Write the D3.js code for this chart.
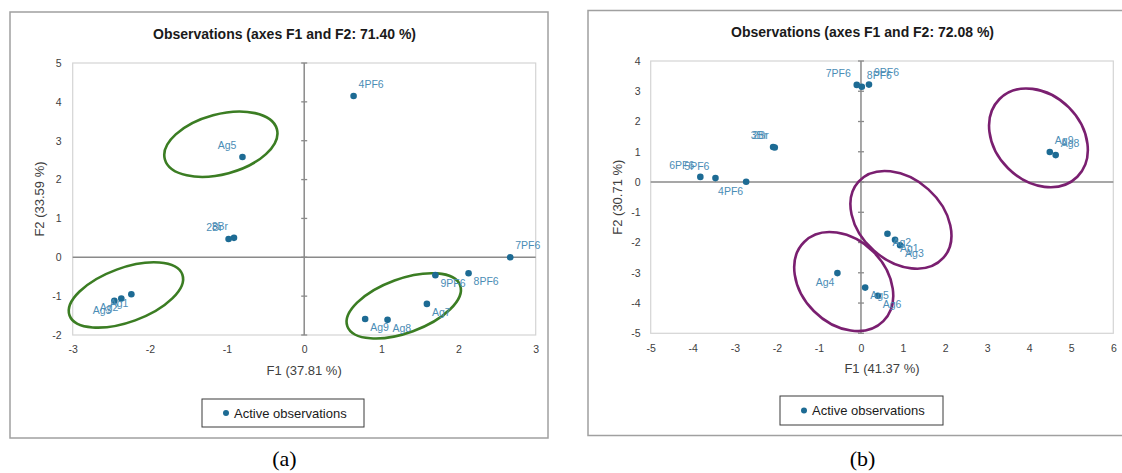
<!DOCTYPE html>
<html>
<head>
<meta charset="utf-8">
<title>Observations (axes F1 and F2)</title>
<script src="https://cdn.jsdelivr.net/npm/d3@7"></script>
<style>
  body { margin: 0; background: #fff; }
  svg  { display: block; font-family: "Liberation Sans", Arial, sans-serif; }
</style>
</head>
<body>
<script>
// ---- data ----
// panel (a)
var namesA = ["4PF6","Ag5","2Br","3Br","Ag3","Ag2","Ag1","7PF6","8PF6","9PF6","Ag7","Ag9","Ag8"];
var f1A    = [0.64, -0.80, -0.98, -0.91, -2.46, -2.37, -2.24, 2.67, 2.13, 1.70, 1.59, 0.79, 1.08];
var f2A    = [4.15,  2.58,  0.47,  0.50, -1.12, -1.06, -0.95, 0.00, -0.41, -0.46, -1.20, -1.59, -1.61];
var xTicksA = [-3, -2, -1, 0, 1, 2, 3];
var yTicksA = [-2, -1, 0, 1, 2, 3, 4, 5];

// panel (b)
var namesB = ["7PF6","8PF6","9PF6","3Br","2Br","6PF6","5PF6","4PF6","Ag9","Ag8","Ag2","Ag1","Ag3","Ag4","Ag5","Ag6"];
var f1B    = [-0.10, 0.02, 0.19, -2.09, -2.05, -3.82, -3.46, -2.73, 4.49, 4.63, 0.63, 0.81, 0.93, -0.56, 0.10, 0.40];
var f2B    = [ 3.21, 3.15, 3.22,  1.16,  1.14,  0.17,  0.13,  0.01, 0.99, 0.89, -1.71, -1.91, -2.09, -3.01, -3.49, -3.76];
var xTicksB = [-5, -4, -3, -2, -1, 0, 1, 2, 3, 4, 5, 6];
var yTicksB = [-5, -4, -3, -2, -1, 0, 1, 2, 3, 4];

// circled groups (centre in F1/F2 units)
var groupsA = [
  {f1: -1.08, f2:  2.91},
  {f1: -2.31, f2: -0.97},
  {f1:  1.29, f2: -1.25}
];
var groupsB = [
  {f1:  4.22, f2:  1.46},
  {f1:  0.95, f2: -1.25},
  {f1: -0.41, f2: -3.29}
];

// where each label sits relative to its point
var sideA = {"4PF6":"ne","Ag5":"nw","2Br":"nw","3Br":"nw","Ag3":"sw","Ag2":"sw","Ag1":"sw",
             "7PF6":"ne","8PF6":"se","9PF6":"se","Ag7":"se","Ag9":"se","Ag8":"se"};
var sideB = {"7PF6":"nw","8PF6":"ne","9PF6":"ne","3Br":"nw","2Br":"nw","6PF6":"nw","5PF6":"nw",
             "4PF6":"sw","Ag9":"ne","Ag8":"ne","Ag2":"se","Ag1":"se","Ag3":"se","Ag4":"sw",
             "Ag5":"se","Ag6":"se"};

var W = 1122, H = 473;
var dotColor = "#1d6b94", labelColor = "#4b8db6";

var svg = d3.select("body").append("svg")
    .attr("width", W)
    .attr("height", H);

var offsets = {
  ne: {dx: 5,  dy: -12, anchor: "start"},
  nw: {dx: -6, dy: -12, anchor: "end"},
  se: {dx: 5,  dy: 8,   anchor: "start"},
  sw: {dx: -3, dy: 9,   anchor: "end"}
};

function drawPanel(p) {
  var g = svg.append("g");

  // outer frame
  g.append("rect")
      .attr("x", p.frame[0]).attr("y", p.frame[1])
      .attr("width", p.frame[2] - p.frame[0]).attr("height", p.frame[3] - p.frame[1])
      .attr("fill", "none").attr("stroke", "#a0a0a0").attr("stroke-width", 1.5);

  var x = d3.scaleLinear().domain(p.xDomain).range([p.plot[0], p.plot[2]]);
  var y = d3.scaleLinear().domain(p.yDomain).range([p.plot[3], p.plot[1]]);

  // plot area border
  g.append("rect")
      .attr("x", p.plot[0]).attr("y", p.plot[1])
      .attr("width", p.plot[2] - p.plot[0]).attr("height", p.plot[3] - p.plot[1])
      .attr("fill", "none").attr("stroke", "#d4d4d4").attr("stroke-width", 1.2);

  // zero lines
  g.append("line")
      .attr("x1", p.plot[0]).attr("x2", p.plot[2])
      .attr("y1", y(0)).attr("y2", y(0))
      .attr("stroke", "#8a8a8a").attr("stroke-width", 1.5);
  g.append("line")
      .attr("x1", x(0)).attr("x2", x(0))
      .attr("y1", p.plot[1]).attr("y2", p.plot[3])
      .attr("stroke", "#8a8a8a").attr("stroke-width", 1.5);
  g.selectAll(".ztick")
      .data(p.yTicks)
    .enter().append("line")
      .attr("x1", x(0) - 3).attr("x2", x(0) + 3)
      .attr("y1", d => y(d)).attr("y2", d => y(d))
      .attr("stroke", "#8a8a8a").attr("stroke-width", 1.3);

  // tick labels
  var yAxis = g.append("g")
      .attr("transform", `translate(${p.plot[0]},0)`)
      .call(d3.axisLeft(y).tickValues(p.yTicks).tickSize(0).tickPadding(p.yPad).tickFormat(d => String(d)));
  var xAxis = g.append("g")
      .attr("transform", `translate(0,${p.plot[3]})`)
      .call(d3.axisBottom(x).tickValues(p.xTicks).tickSize(0).tickPadding(p.xPad).tickFormat(d => String(d)));
  [xAxis, yAxis].forEach(function(a) {
    a.select(".domain").remove();
    a.selectAll("text")
        .attr("fill", "#404040")
        .style("font-size", "10.5px")
        .style("font-family", "Liberation Sans, Arial, sans-serif");
  });

  // titles
  g.append("text")
      .attr("x", p.titleX).attr("y", p.titleY)
      .attr("text-anchor", "middle")
      .attr("font-weight", "bold").attr("font-size", 14).attr("fill", "#1a1a1a")
      .text(p.title);
  g.append("text")
      .attr("x", (p.plot[0] + p.plot[2]) / 2).attr("y", p.plot[3] + 40)
      .attr("text-anchor", "middle")
      .attr("font-size", 13).attr("fill", "#404040")
      .text(p.xTitle);
  g.append("text")
      .attr("transform", `translate(${p.yTitleX},${(p.plot[1] + p.plot[3]) / 2}) rotate(-90)`)
      .attr("text-anchor", "middle")
      .attr("font-size", 13).attr("fill", "#404040")
      .text(p.yTitle);

  // circled groups
  g.selectAll(".grp")
      .data(p.groups)
    .enter().append("ellipse")
      .attr("transform", (d, i) => `translate(${x(d.f1)},${y(d.f2)}) rotate(${p.ell[i][2]})`)
      .attr("rx", (d, i) => p.ell[i][0])
      .attr("ry", (d, i) => p.ell[i][1])
      .attr("fill", "none")
      .attr("stroke", p.ellColor)
      .attr("stroke-width", 2.6);

  // observations
  var pts = p.names.map((n, i) => ({name: n, f1: p.f1[i], f2: p.f2[i]}));
  g.selectAll(".pt")
      .data(pts)
    .enter().append("circle")
      .attr("cx", d => x(d.f1))
      .attr("cy", d => y(d.f2))
      .attr("r", 3.3)
      .attr("fill", dotColor);
  g.selectAll(".lbl")
      .data(pts)
    .enter().append("text")
      .attr("x", d => x(d.f1) + offsets[p.side[d.name]].dx)
      .attr("y", d => y(d.f2) + offsets[p.side[d.name]].dy + 3.8)
      .attr("text-anchor", d => offsets[p.side[d.name]].anchor)
      .attr("font-size", 10.5)
      .attr("fill", labelColor)
      .text(d => d.name);

  // legend
  var lg = p.legend;
  g.append("rect")
      .attr("x", lg[0]).attr("y", lg[1])
      .attr("width", lg[2] - lg[0]).attr("height", lg[3] - lg[1])
      .attr("fill", "#fff").attr("stroke", "#3a3a3a").attr("stroke-width", 1);
  g.append("circle")
      .attr("cx", lg[0] + 24).attr("cy", (lg[1] + lg[3]) / 2)
      .attr("r", 3).attr("fill", dotColor);
  g.append("text")
      .attr("x", lg[0] + 32).attr("y", (lg[1] + lg[3]) / 2 + 4.5)
      .attr("font-size", 13).attr("fill", "#1a1a1a")
      .text("Active observations");

  // panel letter
  svg.append("text")
      .attr("x", p.titleX).attr("y", 466)
      .attr("text-anchor", "middle")
      .attr("font-family", "Liberation Serif, Times New Roman, serif")
      .attr("font-size", 22).attr("fill", "#000")
      .text(p.letter);
}

drawPanel({
  names: namesA, f1: f1A, f2: f2A, side: sideA, groups: groupsA,
  xDomain: [-3, 3], yDomain: [-2, 5], xTicks: xTicksA, yTicks: yTicksA,
  frame: [10, 12, 548, 438], plot: [72.7, 63, 535.7, 335],
  xPad: 11, yPad: 11, yTitleX: 44,
  title: "Observations (axes F1 and F2: 71.40 %)", titleX: 284.5, titleY: 39,
  xTitle: "F1 (37.81 %)", yTitle: "F2 (33.59 %)",
  ellColor: "#3b7d23", ell: [[58, 30, -15], [60, 27, -20], [60, 27, -20]],
  legend: [202, 399, 364, 427], letter: "(a)"
});

drawPanel({
  names: namesB, f1: f1B, f2: f2B, side: sideB, groups: groupsB,
  xDomain: [-5, 6], yDomain: [-5, 4], xTicks: xTicksB, yTicks: yTicksB,
  frame: [588, 10.5, 1140, 435.5], plot: [650.7, 61, 1113.3, 333.3],
  xPad: 11, yPad: 10, yTitleX: 622,
  title: "Observations (axes F1 and F2: 72.08 %)", titleX: 862.5, titleY: 37,
  xTitle: "F1 (41.37 %)", yTitle: "F2 (30.71 %)",
  ellColor: "#7a1f70", ell: [[55, 43, 45], [57, 41, 42], [56, 42, 45]],
  legend: [780, 396, 943, 425], letter: "(b)"
});
</script>
</body>
</html>
